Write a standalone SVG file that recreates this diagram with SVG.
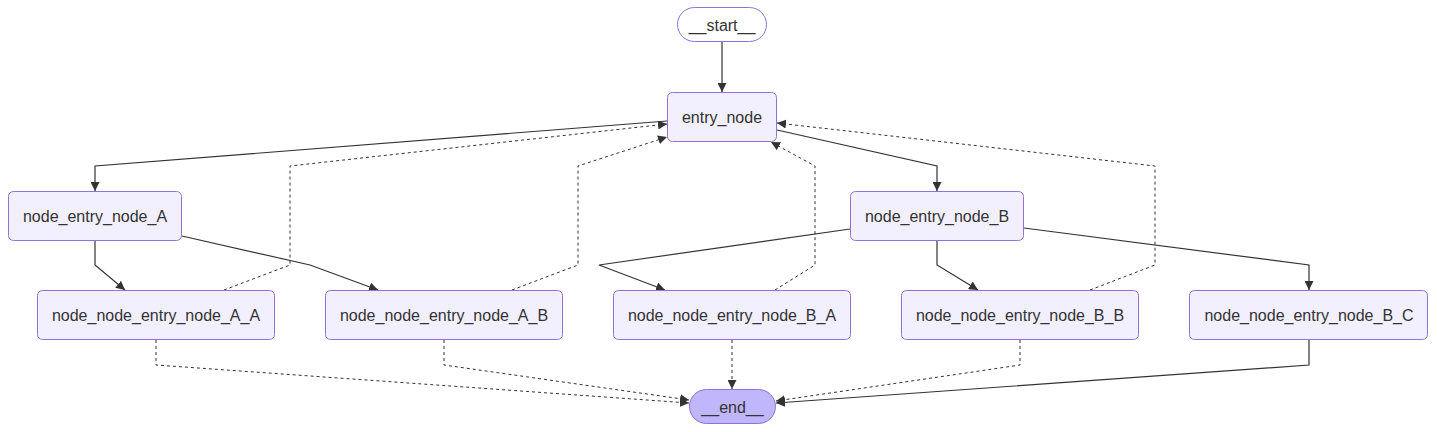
<svg xmlns="http://www.w3.org/2000/svg" width="1437" height="432" viewBox="0 0 1437 432">
<style>
.node rect{fill:#f2f0ff;stroke:#9370DB;stroke-width:1}
.node text{font-family:"Liberation Sans",Arial,sans-serif;font-size:16px;fill:#333333;text-anchor:middle;dominant-baseline:central}
#start rect{fill:#ffffff}
#end rect{fill:#bfb6fc}
.edge{fill:none;stroke:#333333;stroke-width:1.2;marker-end:url(#arrow)}
.dot{stroke-dasharray:3 3;stroke-width:1}
</style>
<defs>
<marker id="arrow" viewBox="0 0 10 10" refX="10" refY="5" markerWidth="9" markerHeight="9" markerUnits="userSpaceOnUse" orient="auto">
<path d="M0,0 L10,5 L0,10 z" fill="#333333"/>
</marker>
</defs>
<rect width="1437" height="432" fill="#ffffff"/>
<g id="edges">
<path class="edge" d="M722,42 L722,92"/>
<path class="edge" d="M667,121 L95,166 L95,191"/>
<path class="edge" d="M95,240 L95,265 L125,290"/>
<path class="edge" d="M182,236 L310,265 L378,290"/>
<path class="edge dot" d="M224,290 L290,265 L290,166 L667,124"/>
<path class="edge dot" d="M512,290 L578,265 L578,166 L667,137"/>
<path class="edge" d="M777,130 L937,166 L937,191"/>
<path class="edge" d="M850,229 L599,265 L665,290"/>
<path class="edge" d="M937,240 L937,265 L978,290"/>
<path class="edge" d="M1024,228 L1309,265 L1309,290"/>
<path class="edge dot" d="M775,290 L815,265 L815,166 L771,142"/>
<path class="edge dot" d="M1090,290 L1155,265 L1155,166 L777,123"/>
<path class="edge dot" d="M156,340 L156,365 L689,403"/>
<path class="edge dot" d="M444,340 L444,365 L689,400"/>
<path class="edge dot" d="M732,340 L732,389"/>
<path class="edge dot" d="M1020,340 L1020,365 L776,401"/>
<path class="edge" d="M1309,340 L1309,365 L776,403"/>
</g>
<g id="start" class="node"><rect x="677.5" y="7.5" width="89" height="34" rx="17" ry="17"/><text x="722" y="25">__start__</text></g>
<g id="entry_node" class="node"><rect x="667.5" y="92.5" width="109" height="49" rx="5" ry="5"/><text x="722" y="117">entry_node</text></g>
<g id="node_entry_node_A" class="node"><rect x="8.5" y="191.5" width="173" height="49" rx="5" ry="5"/><text x="95" y="216">node_entry_node_A</text></g>
<g id="node_entry_node_B" class="node"><rect x="850.5" y="191.5" width="173" height="49" rx="5" ry="5"/><text x="937" y="216">node_entry_node_B</text></g>
<g id="node_node_entry_node_A_A" class="node"><rect x="37.5" y="290.5" width="237" height="49" rx="5" ry="5"/><text x="156" y="315">node_node_entry_node_A_A</text></g>
<g id="node_node_entry_node_A_B" class="node"><rect x="325.5" y="290.5" width="237" height="49" rx="5" ry="5"/><text x="444" y="315">node_node_entry_node_A_B</text></g>
<g id="node_node_entry_node_B_A" class="node"><rect x="613.5" y="290.5" width="237" height="49" rx="5" ry="5"/><text x="732" y="315">node_node_entry_node_B_A</text></g>
<g id="node_node_entry_node_B_B" class="node"><rect x="901.5" y="290.5" width="237" height="49" rx="5" ry="5"/><text x="1020" y="315">node_node_entry_node_B_B</text></g>
<g id="node_node_entry_node_B_C" class="node"><rect x="1189.5" y="290.5" width="238" height="49" rx="5" ry="5"/><text x="1309" y="315">node_node_entry_node_B_C</text></g>
<g id="end" class="node"><rect x="689.5" y="389.5" width="86" height="34" rx="17" ry="17"/><text x="732.5" y="407">__end__</text></g>
</svg>
